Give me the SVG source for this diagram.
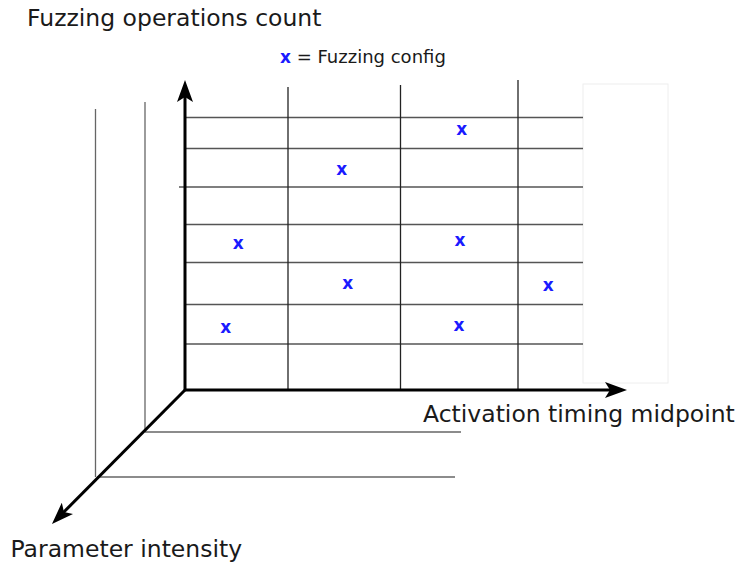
<svg xmlns="http://www.w3.org/2000/svg" width="740" height="562" viewBox="0 0 740 562">
<style>
.lbl{font-family:"DejaVu Sans",sans-serif;font-size:23.5px;fill:#1a1a1a}
.leg{font-family:"DejaVu Sans",sans-serif;font-size:18px;fill:#1a1a1a}
.pt{font-family:"DejaVu Sans",sans-serif;font-size:17px;font-weight:bold;fill:#1a1aff;text-anchor:middle}
.gh{stroke:#555;stroke-width:1.6}
.gv{stroke:#222;stroke-width:1.3}
.side{stroke:#666;stroke-width:1.3}
.axis{stroke:#000;stroke-width:3;fill:none}
</style>
<defs>
<marker id="arr" markerUnits="userSpaceOnUse" markerWidth="22" markerHeight="16" viewBox="0 0 22 16" refX="16" refY="8" orient="auto">
<path d="M0,0 L22,8 L0,16 L5,8 z" fill="#000"/>
</marker>
</defs>
<rect x="0" y="0" width="740" height="562" fill="#fff"/>
<g id="panel">
<rect x="583" y="84" width="85" height="299" fill="#fff" stroke="#eee" stroke-width="1"/>
</g>
<g id="grid">
<line class="side" x1="95.5" y1="109" x2="95.5" y2="477"/>
<line class="side" x1="145" y1="102" x2="145" y2="432"/>
<line class="side" x1="97" y1="477" x2="455" y2="477"/>
<line class="side" x1="145" y1="432" x2="461" y2="432"/>
<line class="gh" x1="185" y1="117.5" x2="583" y2="117.5"/>
<line class="gh" x1="185" y1="148.5" x2="583" y2="148.5"/>
<line class="gh" x1="179" y1="187" x2="583" y2="187"/>
<line class="gh" x1="185" y1="224.5" x2="583" y2="224.5"/>
<line class="gh" x1="185" y1="262.5" x2="583" y2="262.5"/>
<line class="gh" x1="185" y1="304.5" x2="583" y2="304.5"/>
<line class="gh" x1="185" y1="344" x2="583" y2="344"/>
<line class="gv" x1="288" y1="87" x2="288" y2="390"/>
<line class="gv" x1="400.5" y1="85" x2="400.5" y2="390"/>
<line class="gv" x1="518" y1="80" x2="518" y2="390"/>
</g>
<g id="axes">
<line class="axis" x1="185" y1="390" x2="185" y2="86" marker-end="url(#arr)"/>
<line class="axis" x1="184" y1="390" x2="621" y2="390" marker-end="url(#arr)"/>
<line class="axis" x1="185" y1="390" x2="56.2" y2="519.7" marker-end="url(#arr)"/>
</g>
<g id="points">
<text class="pt" x="461.7" y="135">x</text>
<text class="pt" x="341.7" y="174.7">x</text>
<text class="pt" x="238.3" y="248.7">x</text>
<text class="pt" x="460" y="246.4">x</text>
<text class="pt" x="347.7" y="289">x</text>
<text class="pt" x="548.3" y="291.4">x</text>
<text class="pt" x="225.7" y="333">x</text>
<text class="pt" x="459" y="331.4">x</text>
</g>
<g id="labels">
<text class="lbl" x="27" y="26">Fuzzing operations count</text>
<text class="leg" x="280" y="63"><tspan fill="#1a1aff" font-weight="bold" font-size="17px">x</tspan> = Fuzzing config</text>
<text class="lbl" x="423" y="421.5">Activation timing midpoint</text>
<text class="lbl" x="10.5" y="557">Parameter intensity</text>
</g>
</svg>
